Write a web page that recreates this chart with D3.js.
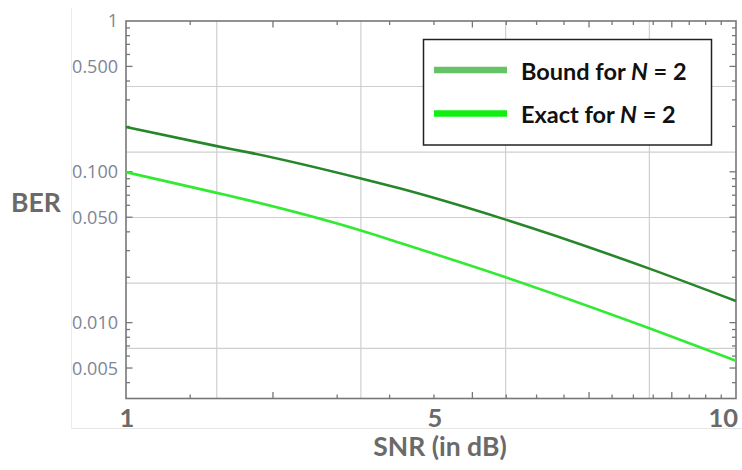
<!DOCTYPE html>
<html>
<head>
<meta charset="utf-8">
<script src="https://cdn.jsdelivr.net/npm/d3@7"></script>
<style>
  body { margin: 0; background: #fff; }
  svg { display: block; }
</style>
</head>
<body>
<svg></svg>
<script>
const size = {w: 742, h: 470};
const plot = {l: 126, t: 21, r: 736, b: 398.5};

// underlying (log) x values where the curves were read, and BER at each
const xVals = [2.4, 3.29, 3.69, 5.43, 6.23, 8.98, 14.8, 20];
const berBound = [0.198, 0.148, 0.134, 0.0903, 0.0774, 0.0482, 0.0228, 0.0139];
const berExact = [0.0995, 0.0725, 0.0644, 0.0408, 0.0337, 0.0200, 0.00918, 0.00559];

// axis labels pasted under the x axis
const xLabelAt = [2.4, 7, 20];
const xLabelText = ['1', '5', '10'];

const yLabelAt = [0.005, 0.01, 0.05, 0.1, 0.5, 1];
const yLabelText = ['0.005', '0.010', '0.050', '0.100', '0.500', '1'];

const xMajor = [4, 8, 12, 16];
const xGrid = [3.29, 5.43, 8.98, 14.8];
const yGrid = [0.368, 0.135, 0.0498, 0.0183, 0.00674];

const seriesNames = ['Bound for ', 'Exact for '];

const svg = d3.select('svg')
    .attr('width', size.w)
    .attr('height', size.h);

const x = d3.scaleLog()
    .domain([2.4, 20])
    .range([plot.l, plot.r]);

const y = d3.scaleLog()
    .domain([0.00314, 1])
    .range([plot.b, plot.t]);

// faint edges of the box that covered the original tick labels
svg.append('line')
    .attr('x1', 71.5).attr('x2', 71.5)
    .attr('y1', 8).attr('y2', 428.5)
    .attr('stroke', '#ececec');
svg.append('line')
    .attr('x1', 71.5).attr('x2', 742)
    .attr('y1', 428.5).attr('y2', 428.5)
    .attr('stroke', '#e6e6e6');

// grid
let grid = svg.append('g').attr('stroke', '#cfcfcf').attr('stroke-width', 1.2);
grid.selectAll('.gx')
    .data(xGrid)
    .enter()
    .append('line')
    .attr('x1', d => x(d)).attr('x2', d => x(d))
    .attr('y1', plot.t).attr('y2', plot.b);
grid.selectAll('.gy')
    .data(yGrid)
    .enter()
    .append('line')
    .attr('x1', plot.l).attr('x2', plot.r)
    .attr('y1', d => y(d)).attr('y2', d => y(d));

// tick values: every integer on x, every 1..9 multiple on y
let xTicks = d3.range(3, 20);
let yTicks = [];
[0.001, 0.01, 0.1].forEach(dec => {
    for (let k = 1; k <= 9; k++) {
        let v = +(dec * k).toPrecision(3);
        if (v >= 0.00314 && v < 1) yTicks.push(v);
    }
});

let ticks = svg.append('g').attr('stroke', '#777').attr('stroke-width', 1.3);
let tickLen = (isMajor) => isMajor ? 6.5 : 4;

// bottom and top
ticks.selectAll('.tb')
    .data(xTicks)
    .enter()
    .append('line')
    .attr('x1', d => x(d)).attr('x2', d => x(d))
    .attr('y1', plot.b).attr('y2', d => plot.b - tickLen(xMajor.includes(d)));
ticks.selectAll('.tt')
    .data(xTicks)
    .enter()
    .append('line')
    .attr('x1', d => x(d)).attr('x2', d => x(d))
    .attr('y1', plot.t).attr('y2', d => plot.t + tickLen(xMajor.includes(d)));

// left and right
ticks.selectAll('.tl')
    .data(yTicks)
    .enter()
    .append('line')
    .attr('y1', d => y(d)).attr('y2', d => y(d))
    .attr('x1', plot.l).attr('x2', d => plot.l + tickLen(yLabelAt.includes(d)));
ticks.selectAll('.tr')
    .data(yTicks)
    .enter()
    .append('line')
    .attr('y1', d => y(d)).attr('y2', d => y(d))
    .attr('x1', plot.r).attr('x2', d => plot.r - tickLen(yLabelAt.includes(d)));

// frame
svg.append('rect')
    .attr('x', plot.l).attr('y', plot.t)
    .attr('width', plot.r - plot.l)
    .attr('height', plot.b - plot.t)
    .attr('fill', 'none')
    .attr('stroke', '#777')
    .attr('stroke-width', 1.6);

// curves
const line = d3.line()
    .x(d => x(d[0]))
    .y(d => y(d[1]))
    .curve(d3.curveMonotoneX);

svg.append('path')
    .datum(d3.zip(xVals, berBound))
    .attr('d', line)
    .attr('fill', 'none')
    .attr('stroke', '#27862a')
    .attr('stroke-width', 2.6);

svg.append('path')
    .datum(d3.zip(xVals, berExact))
    .attr('d', line)
    .attr('fill', 'none')
    .attr('stroke', '#33ea33')
    .attr('stroke-width', 2.6);

// y tick labels
svg.append('g')
    .selectAll('text')
    .data(yLabelAt)
    .enter()
    .append('text')
    .attr('x', 118)
    .attr('y', d => y(d))
    .attr('dy', '0.36em')
    .attr('text-anchor', 'end')
    .style('font-family', '"Open Sans", sans-serif')
    .style('font-size', '18px')
    .style('fill', '#808594')
    .text((d, i) => yLabelText[i]);

// x tick labels
svg.append('g')
    .selectAll('text')
    .data(xLabelAt)
    .enter()
    .append('text')
    .attr('x', (d, i) => i === 2 ? x(d) + 2 : x(d) + 1)
    .attr('y', 427)
    .attr('text-anchor', (d, i) => i === 2 ? 'end' : 'middle')
    .style('font-family', 'Lato, sans-serif')
    .style('font-weight', 'bold')
    .style('font-size', '25.5px')
    .style('fill', '#6a6a6a')
    .text((d, i) => xLabelText[i]);

// axis titles
svg.append('text')
    .attr('x', 11)
    .attr('y', 212)
    .style('font-family', 'Lato, sans-serif')
    .style('font-weight', 'bold')
    .style('font-size', '26.5px')
    .style('fill', '#6a6a6a')
    .text('BER');

svg.append('text')
    .attr('x', 440)
    .attr('y', 456)
    .attr('text-anchor', 'middle')
    .style('font-family', 'Lato, sans-serif')
    .style('font-weight', 'bold')
    .style('font-size', '26.5px')
    .style('fill', '#6a6a6a')
    .text('SNR (in dB)');

// legend
let legend = svg.append('g');
legend.append('rect')
    .attr('x', 423.5).attr('y', 39.5)
    .attr('width', 288).attr('height', 105.5)
    .attr('fill', '#fff')
    .attr('stroke', '#222')
    .attr('stroke-width', 1.5);

const legendColors = ['#66c266', '#11ee11'];
seriesNames.forEach((name, i) => {
    let ly = 70 + i * 43.5;
    legend.append('line')
        .attr('x1', 434).attr('x2', 507)
        .attr('y1', ly).attr('y2', ly)
        .attr('stroke', legendColors[i])
        .attr('stroke-width', 6.5);
    let t = legend.append('text')
        .attr('x', 521)
        .attr('y', ly + 9.5)
        .style('font-family', 'Lato, sans-serif')
        .style('font-weight', 'bold')
        .style('font-size', '23.5px')
        .style('fill', '#111');
    t.append('tspan').text(name);
    t.append('tspan').style('font-style', 'italic').text('N');
    t.append('tspan').text(' = 2');
});
</script>
</body>
</html>
